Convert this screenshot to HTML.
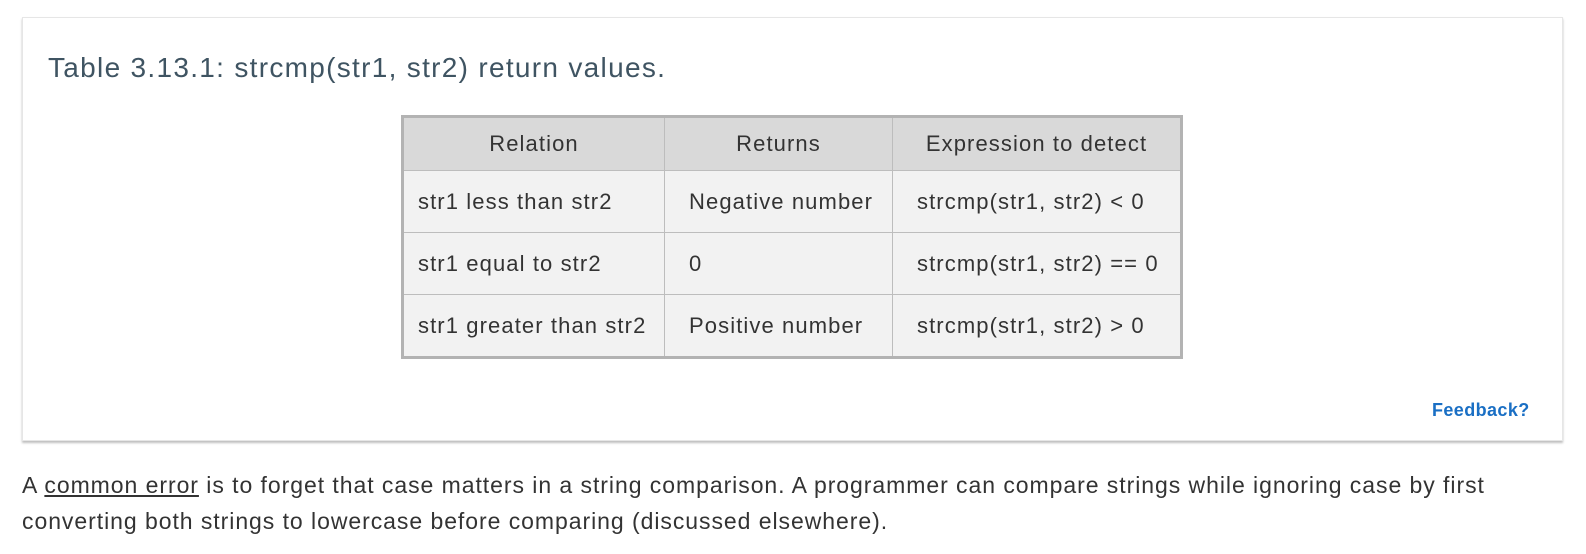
<!DOCTYPE html>
<html><head><style>
body{margin:0;width:1586px;height:554px;background:#fff;position:relative;font-family:"Liberation Sans",sans-serif;overflow:hidden}
.card{position:absolute;left:22px;top:17px;width:1539px;height:422px;background:#fff;border:1px solid #e6e6e6;box-shadow:0 2px 2px rgba(0,0,0,.25)}
.title{position:absolute;left:48px;top:52px;font-size:28px;letter-spacing:1.3px;color:#3f5462;white-space:nowrap}
table{position:absolute;left:401px;top:115px;width:779px;table-layout:fixed;border-collapse:collapse;border:3px solid #b3b3b3;font-size:22px;letter-spacing:1.1px;color:#333}
td{border:1px solid #bdbdbd;background:#f2f2f2;padding:0 0 0 14px;height:61px;white-space:nowrap;overflow:visible}
tr.h td{background:#d9d9d9;text-align:center;height:52px;padding:0}
.fb{position:absolute;left:1432px;top:400px;font-size:18px;letter-spacing:0.4px;font-weight:bold;color:#1a6fc4}
.p{position:absolute;left:22px;top:467px;font-size:23px;letter-spacing:0.95px;line-height:36px;color:#333;width:1560px;white-space:nowrap}
</style></head><body>
<div class="card"></div>
<div class="title">Table 3.13.1: strcmp(str1, str2) return values.</div>
<table>
<colgroup><col style="width:262px"><col style="width:228px"><col style="width:289px"></colgroup>
<tr class="h"><td>Relation</td><td>Returns</td><td>Expression to detect</td></tr>
<tr><td>str1 less than str2</td><td style="padding-left:24px">Negative number</td><td style="padding-left:24px">strcmp(str1, str2) &lt; 0</td></tr>
<tr><td>str1 equal to str2</td><td style="padding-left:24px">0</td><td style="padding-left:24px">strcmp(str1, str2) == 0</td></tr>
<tr><td>str1 greater than str2</td><td style="padding-left:24px">Positive number</td><td style="padding-left:24px">strcmp(str1, str2) &gt; 0</td></tr>
</table>
<div class="fb">Feedback?</div>
<div class="p">A <u>common error</u> is to forget that case matters in a string comparison. A programmer can compare strings while ignoring case by first<br>converting both strings to lowercase before comparing (discussed elsewhere).</div>
</body></html>
